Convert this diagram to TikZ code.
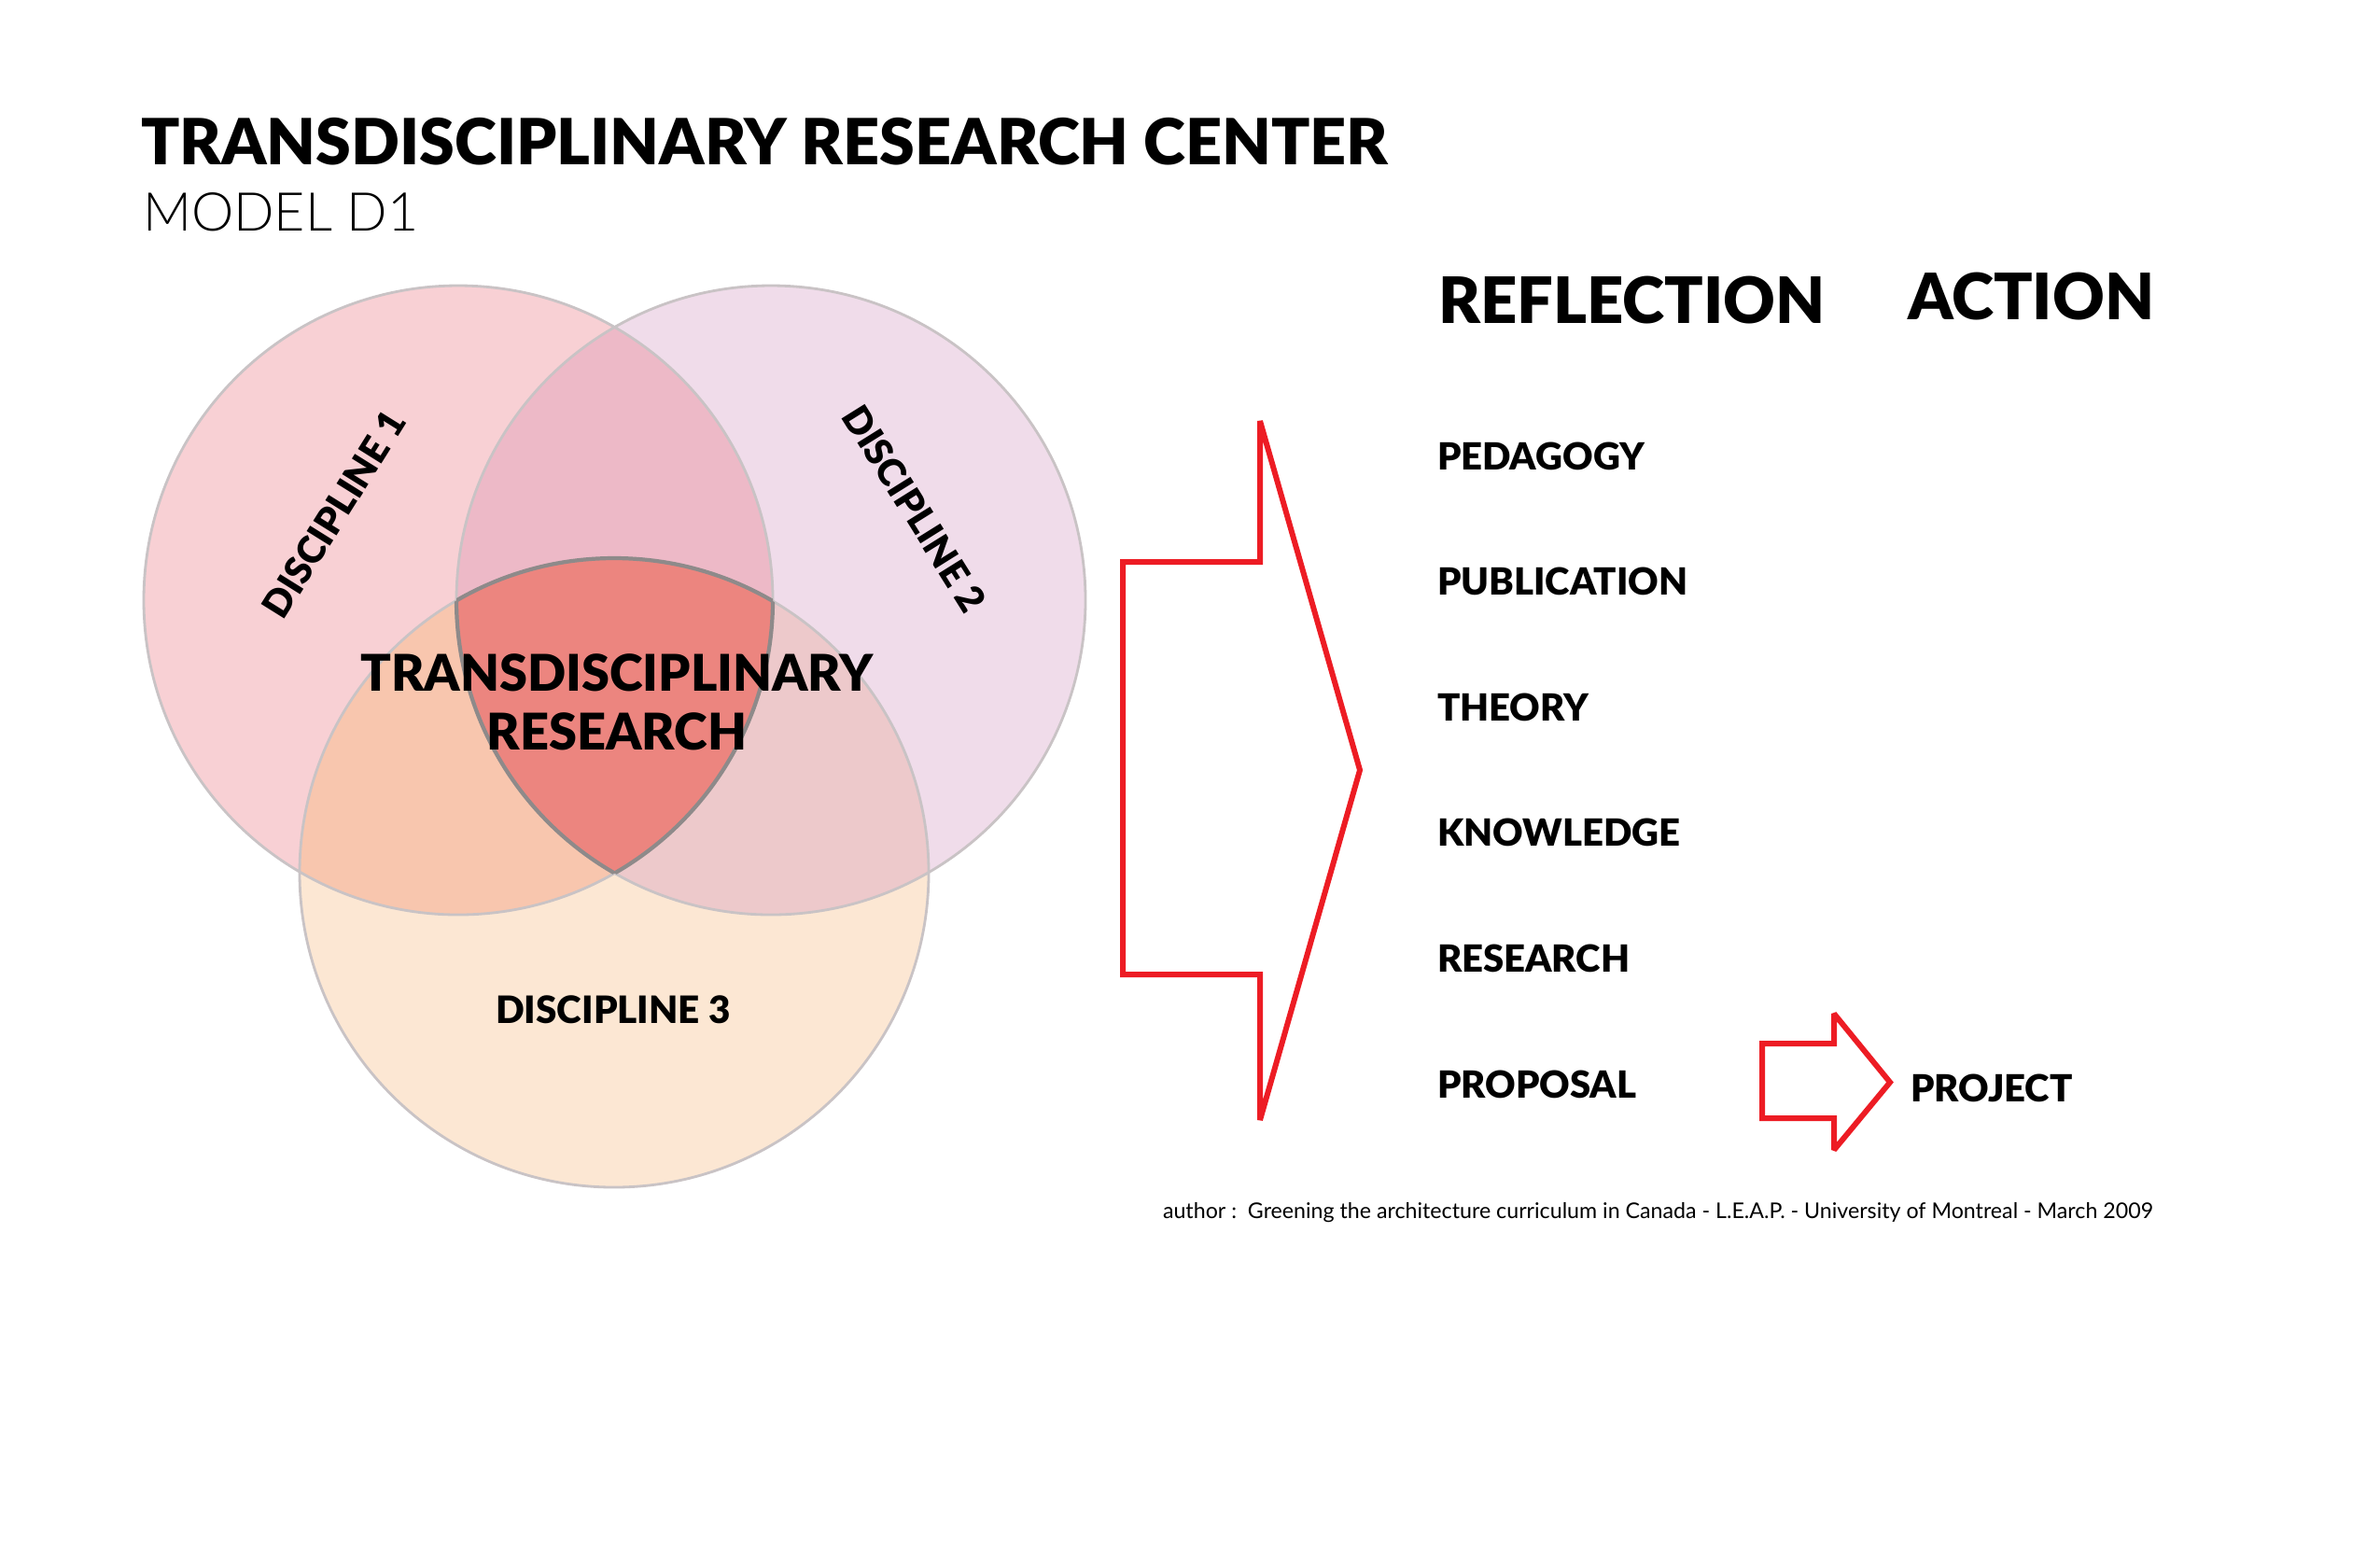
\documentclass[tikz,border=0pt]{standalone}
\usepackage{fontspec}
\setmainfont{Lato}
\newfontfamily\thinfont{Lato Light}
\newfontfamily\heavyfont{Lato Black}
\usetikzlibrary{positioning}

\definecolor{discA}{HTML}{F8D0D4}
\definecolor{discB}{HTML}{F0DCEA}
\definecolor{discC}{HTML}{FCE7D3}
\definecolor{discAB}{HTML}{EDB9C7}
\definecolor{discAC}{HTML}{F8C6AE}
\definecolor{discBC}{HTML}{EDC9CB}
\definecolor{discABC}{HTML}{EC857F}
\definecolor{rimgray}{HTML}{C9C3C5}
\definecolor{rimdark}{HTML}{8E8A8A}
\definecolor{arrowred}{HTML}{ED1C24}

\begin{document}
\begin{tikzpicture}[line width=0.2mm,
  heading/.style={anchor=base west,inner sep=0pt,font=\fontsize{19.5}{22}\heavyfont},
  item/.style={anchor=base west,inner sep=0pt,font=\fontsize{11.4}{13}\heavyfont},
  venn/.style={inner sep=0pt,font=\fontsize{11.5}{13}\heavyfont},
  rim/.style={draw=rimgray,line width=0.8pt},
  darkrim/.style={draw=rimdark,line width=1.2pt},
  redline/.style={draw=arrowred,line width=1.7pt,miter limit=2}]

  \useasboundingbox[fill=white] (0,0) rectangle (25.5,-16.5);
  \def\R{3.37}

  % centres of the three disciplines
  \coordinate (c1) at (4.91,-6.43);
  \coordinate (c2) at (8.26,-6.43);
  \coordinate (c3) at (6.58,-9.35);

  % title
  \node[heading,font=\fontsize{19.4}{22}\heavyfont] (title) at (1.50,-1.76) {TRANSDISCIPLINARY RESEARCH CENTER};
  \node[anchor=base west,inner sep=0pt,font=\fontsize{16.3}{20}\thinfont] (model) at (1.52,-2.47) {MODEL D1};

  % venn diagram
  \fill[discA] (c1) circle (\R);
  \fill[discB] (c2) circle (\R);
  \fill[discC] (c3) circle (\R);
  \begin{scope}
    \clip (c1) circle (\R);
    \fill[discAB] (c2) circle (\R);
    \fill[discAC] (c3) circle (\R);
  \end{scope}
  \begin{scope}
    \clip (c2) circle (\R);
    \fill[discBC] (c3) circle (\R);
  \end{scope}
  \begin{scope}
    \clip (c1) circle (\R);
    \clip (c2) circle (\R);
    \fill[discABC] (c3) circle (\R);
  \end{scope}
  \draw[rim] (c1) circle (\R) (c2) circle (\R) (c3) circle (\R);
  \begin{scope}
    \clip (c1) circle (\R);
    \clip (c2) circle (\R);
    \draw[darkrim] (c3) circle (\R);
  \end{scope}
  \begin{scope}
    \clip (c1) circle (\R);
    \clip (c3) circle (\R);
    \draw[darkrim] (c2) circle (\R);
  \end{scope}
  \begin{scope}
    \clip (c2) circle (\R);
    \clip (c3) circle (\R);
    \draw[darkrim] (c1) circle (\R);
  \end{scope}

  \node[venn,rotate=58]  (d1) at (3.58,-5.51) {DISCIPLINE 1};
  \node[venn,rotate=-58] (d2) at (9.80,-5.45) {DISCIPLINE 2};
  \node[venn] (d3) at (6.57,-10.82) {DISCIPLINE 3};
  \node[venn,align=center,font=\fontsize{15.4}{18}\heavyfont] (core) at (6.61,-7.52)
    {TRANSDISCIPLINARY\\RESEARCH};

  % big arrow
  \draw[redline] (12.03,-6.02) -- (13.50,-6.02) -- (13.50,-4.51) -- (14.57,-8.25)
    -- (13.50,-12.00) -- (13.50,-10.44) -- (12.03,-10.44) -- cycle;

  % columns
  \node[heading] (refl) at (15.40,-3.46) {REFLECTION};
  \node[heading] (act) at (20.43,-3.42) {ACTION};

  \node[item] (ped) at (15.39,-5.03) {PEDAGOGY};
  \node[item,below=1.346cm of ped.base west,anchor=base west] (pub) {PUBLICATION};
  \node[item,below=1.346cm of pub.base west,anchor=base west] (theo) {THEORY};
  \node[item,below=1.346cm of theo.base west,anchor=base west] (know) {KNOWLEDGE};
  \node[item,below=1.346cm of know.base west,anchor=base west] (res) {RESEARCH};
  \node[item,below=1.346cm of res.base west,anchor=base west] (prop) {PROPOSAL};

  % small arrow
  \draw[redline] (18.88,-11.18) -- (19.65,-11.18) -- (19.65,-10.86) -- (20.25,-11.595)
    -- (19.65,-12.32) -- (19.65,-11.98) -- (18.88,-11.98) -- cycle;
  \node[item] (proj) at (20.46,-11.80) {PROJECT};

  % credit
  \node[anchor=base west,inner sep=0pt,font=\fontsize{6.6}{8}\selectfont] (credit) at (12.45,-13.05)
    {author :\ \ Greening the architecture curriculum in Canada - L.E.A.P. - University of Montreal - March 2009};
\end{tikzpicture}
\end{document}
